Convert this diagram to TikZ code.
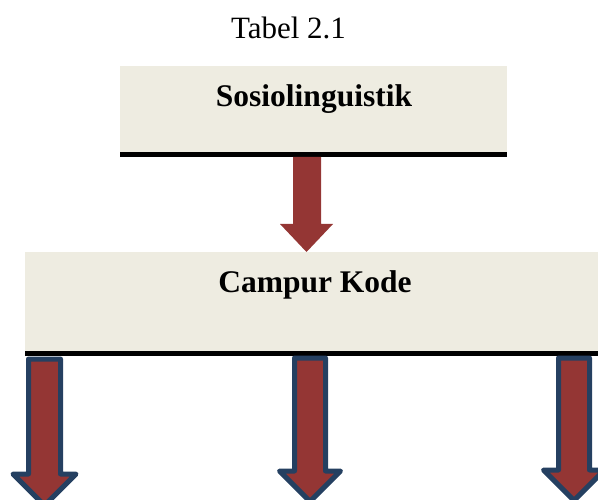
\documentclass[tikz,border=0pt]{standalone}
\usepackage{fontspec}
\setmainfont{Liberation Serif}
\definecolor{boxfill}{HTML}{EEECE1}
\definecolor{arrowred}{HTML}{943634}
\definecolor{arrowblue}{HTML}{254061}
\tikzset{
  panel/.style={fill=boxfill, draw=none, inner sep=0pt, anchor=north west},
  bar/.style={line width=5pt, black},
  label/.style={anchor=base, inner sep=0pt, font=\fontsize{31.5}{36}\selectfont\bfseries},
  redarrow/.style={fill=arrowred, draw=none},
  bluearrow/.style={fill=arrowred, draw=arrowblue, line width=5pt, line join=round},
}
\begin{document}
\begin{tikzpicture}[x=1pt, y=-1pt]
\useasboundingbox (0,0) rectangle (598,500);
\begin{scope}
\clip (0,0) rectangle (598,500);
% title
\node[anchor=base, inner sep=0pt, font=\fontsize{31}{36}\selectfont] (title) at (288.5,39) {Tabel 2.1};
% box 1
\node[panel, minimum width=387pt, minimum height=86pt] (box1) at (120,66) {};
\draw[bar] (box1.south west) ++(0,2.5) coordinate (b1l) -- (box1.south east |- b1l);
\node[label] (t1) at (314,107) {Sosiolinguistik};
% top arrow
\fill[redarrow] (293,157) -- (321,157) -- (321,224) -- (333,224) -- (306.5,252) -- (280,224) -- (293,224) -- cycle;
% box 2
\node[panel, minimum width=590pt, minimum height=99pt] (box2) at (25,252) {};
\draw[bar] (box2.south west) ++(0,2.5) coordinate (b2l) -- (box2.south east |- b2l);
\node[label] (t2) at (315,293) {Campur Kode};
% lower arrows
\draw[bluearrow] (28.5,359) -- (60.5,359) -- (60.5,474) -- (76,474) -- (44.5,505.5) -- (13,474) -- (28.5,474) -- cycle;
\draw[bluearrow] (294.5,358) -- (325.5,358) -- (325.5,471) -- (340.5,471) -- (310,501.5) -- (279.5,471) -- (294.5,471) -- cycle;
\draw[bluearrow] (558.5,358) -- (589.5,358) -- (589.5,470) -- (604.5,470) -- (574,500.5) -- (543.5,470) -- (558.5,470) -- cycle;
\end{scope}
\end{tikzpicture}
\end{document}
